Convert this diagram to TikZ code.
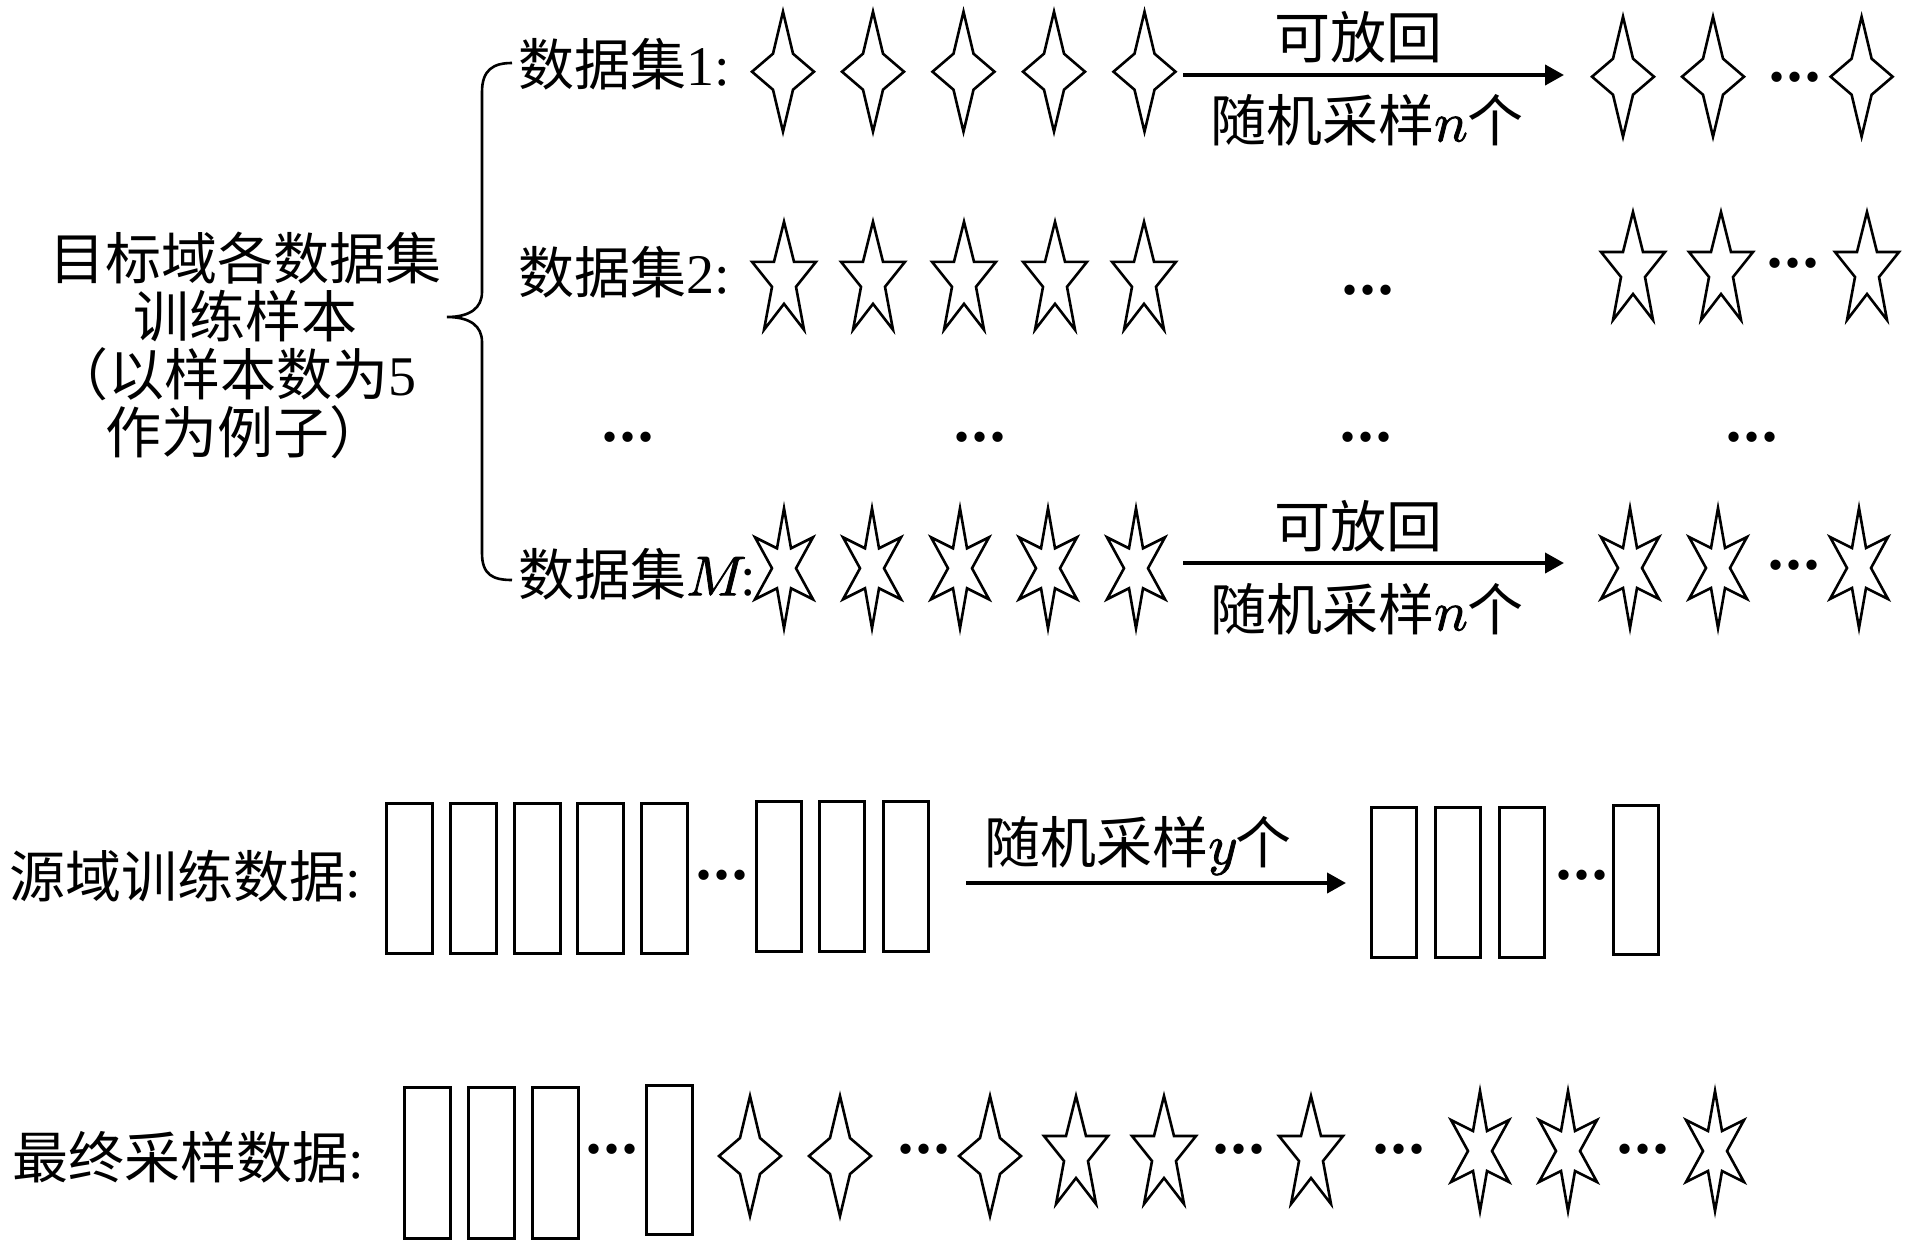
\documentclass[tikz,border=0pt]{standalone}
\usepackage{fontspec}
\setmainfont{Liberation Serif}
\newfontfamily\cjk{Noto Sans CJK SC}
\newfontfamily\lmm[FakeBold=1.5]{latinmodern-math.otf}
\usetikzlibrary{arrows.meta}
\newcommand\zh[1]{{\cjk #1}}
\newcommand\threedots{•\kern3pt•\kern3pt•}
\tikzset{
  lbl/.style={inner sep=0pt, font=\fontsize{56pt}{58pt}\selectfont},
  dotsn/.style={inner sep=0pt, font=\fontsize{43pt}{43pt}\selectfont},
  starline/.style={line width=2.6pt, line join=miter},
  box/.style={draw, line width=3pt, inner sep=0pt, minimum width=46pt, minimum height=150pt},
  bigarrow/.style={line width=4pt, -{Triangle[length=19pt,width=20pt]}},
  braceline/.style={line width=2.6pt},
  diastar/.pic={\draw[starline] (0,-60) -- (10,-18) -- (31,0) -- (10,18) -- (0,60) -- (-10,18) -- (-31,0) -- (-10,-18) -- cycle;},
  pentstar/.pic={\draw[starline] (0,-54) -- (10,-14) -- (32,-14) -- (12,11) -- (20,54) -- (0,28) -- (-20,54) -- (-12,11) -- (-32,-14) -- (-10,-14) -- cycle;},
  hexstar/.pic={\draw[starline] (0,-60) -- (7,-20) -- (29,-31) -- (12,0) -- (29,31) -- (7,20) -- (0,60) -- (-7,20) -- (-29,31) -- (-12,0) -- (-29,-31) -- (-7,-20) -- cycle;},
}
\begin{document}
\begin{tikzpicture}[x=1pt,y=-1pt]
\useasboundingbox[fill=white] (0,0) rectangle (1913,1252);

% left description
\node[lbl, align=center] (tgt) at (245,345) {\zh{目标域各数据集}\\\zh{训练样本}\\\hspace*{-22pt}\zh{（以样本数为}5\\\zh{作为例子）}};

% brace
\draw[braceline] (512,63) .. controls (493,63) and (482,70) .. (482,92) -- (482,292) .. controls (482,308) and (470,317) .. (447,317) .. controls (470,317) and (482,326) .. (482,342) -- (482,553) .. controls (482,575) and (493,580) .. (512,580);

% row labels
\node[lbl, anchor=west] (d1) at (518,64) {\zh{数据集}1:};
\node[lbl, anchor=west] (d2) at (518,272.5) {\zh{数据集}2:};
\node[lbl, anchor=west] (dM) at (518,574) {\zh{数据集}{\lmm 𝑀}:};

% row 1
\foreach \x in {783,873,963.5,1054,1144.5} \pic at (\x,71.7) {diastar};
\coordinate (a1s) at (1183,75);
\coordinate (a1e) at (1564,75);
\draw[bigarrow] (a1s) -- (a1e);
\node[lbl] (a1t) at (1358,37.5) {\zh{可放回}};
\node[lbl] (a1b) at (1367,120) {\zh{随机采样}{\lmm 𝑛}\zh{个}};
\pic at (1623,76.7) {diastar};
\pic at (1713,76.7) {diastar};
\node[dotsn] (r1d) at (1795,81.7) {\threedots};
\pic at (1861.6,76.7) {diastar};

% row 2
\foreach \x in {784,873,964,1055,1144} \pic at (\x,275.8) {pentstar};
\node[dotsn] (r2m) at (1368,295) {\threedots};
\pic at (1633,266) {pentstar};
\pic at (1721,266) {pentstar};
\node[dotsn] (r2d) at (1793,267.7) {\threedots};
\pic at (1867,266) {pentstar};

% row 3 dots
\node[dotsn] (r3a) at (628,442) {\threedots};
\node[dotsn] (r3b) at (980,442) {\threedots};
\node[dotsn] (r3c) at (1366,442) {\threedots};
\node[dotsn] (r3d) at (1752,442) {\threedots};

% row M
\foreach \x in {784,872,960,1048,1136} \pic at (\x,568.3) {hexstar};
\coordinate (aMs) at (1183,563);
\coordinate (aMe) at (1564,563);
\draw[bigarrow] (aMs) -- (aMe);
\node[lbl] (aMt) at (1358,526.7) {\zh{可放回}};
\node[lbl] (aMb) at (1367,609) {\zh{随机采样}{\lmm 𝑛}\zh{个}};
\pic at (1630,568) {hexstar};
\pic at (1718,568) {hexstar};
\node[dotsn] (rMd) at (1794,570) {\threedots};
\pic at (1859,568) {hexstar};

% source data
\node[lbl, anchor=west] (src) at (9,876) {\zh{源域训练数据}:};
\foreach \x/\n in {409/1,473/2,537/3,600/4,664/5} \node[box] (s\n) at (\x,878) {};
\node[dotsn] (sd) at (722,880) {\threedots};
\foreach \x/\n in {778.5/6,842/7,905.5/8} \node[box, minimum width=45pt] (s\n) at (\x,876) {};
\coordinate (ass) at (966,883);
\coordinate (ase) at (1346,883);
\draw[bigarrow] (ass) -- (ase);
\node[lbl] (ast) at (1138,846) {\zh{随机采样}{\lmm 𝑦}\zh{个}};
\foreach \x/\n in {1393.5/1,1457.5/2,1521.5/3} \node[box, minimum width=45pt] (t\n) at (\x,882) {};
\node[dotsn] (td) at (1582,880) {\threedots};
\node[box, minimum width=45pt, minimum height=149pt] (t4) at (1636,879.5) {};

% final data
\node[lbl, anchor=west] (fin) at (12,1157.5) {\zh{最终采样数据}:};
\foreach \x/\n in {427/1,491/2,555/3} \node[box, minimum height=151pt] (f\n) at (\x,1162.5) {};
\node[dotsn] (fd1) at (612,1154) {\threedots};
\node[box, minimum height=149pt] (f4) at (669,1159.5) {};
\pic at (750,1156) {diastar};
\pic at (840,1156) {diastar};
\node[dotsn] (fd2) at (924,1154) {\threedots};
\pic at (990,1156) {diastar};
\pic at (1076,1150) {pentstar};
\pic at (1164,1150) {pentstar};
\node[dotsn] (fd3) at (1239,1154) {\threedots};
\pic at (1311,1150) {pentstar};
\node[dotsn] (fd4) at (1399,1154) {\threedots};
\pic at (1480,1151) {hexstar};
\pic at (1568,1151) {hexstar};
\node[dotsn] (fd5) at (1643,1154) {\threedots};
\pic at (1715,1151) {hexstar};
\end{tikzpicture}
\end{document}
